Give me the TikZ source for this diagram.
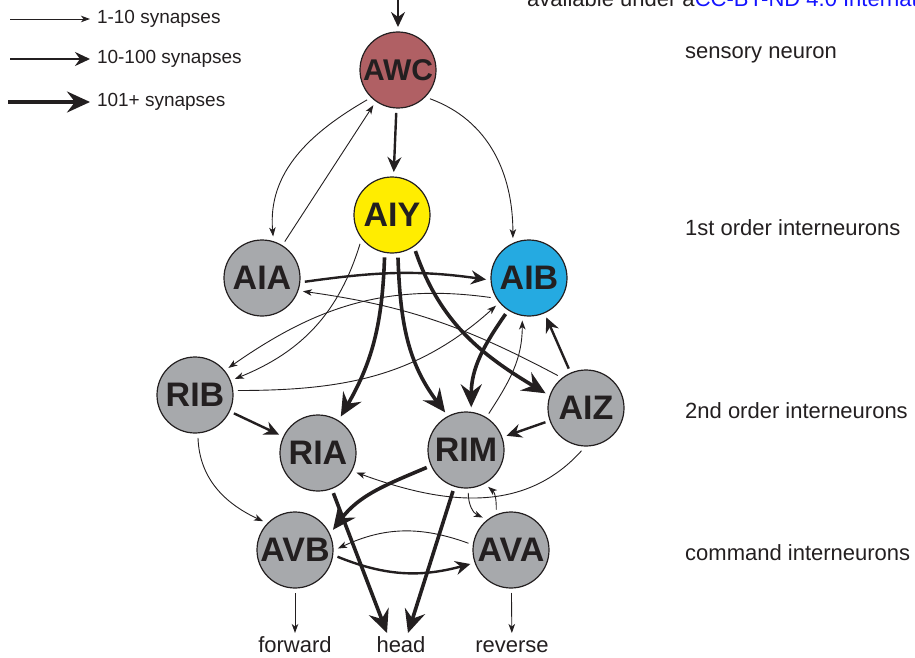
\documentclass[tikz,border=0pt]{standalone}
\usepackage{fontspec}
\setmainfont{Liberation Sans}
\usetikzlibrary{arrows.meta}
\definecolor{awcred}{RGB}{176,96,100}
\definecolor{aiyyellow}{RGB}{255,237,0}
\definecolor{aibblue}{RGB}{37,170,225}
\definecolor{cellgray}{RGB}{167,169,172}
\definecolor{ink}{RGB}{35,31,32}
\definecolor{linkblue}{RGB}{20,20,255}

\begin{document}
\begin{tikzpicture}[x=1pt,y=1pt,font=\fontsize{22}{26}\selectfont,text=ink,
 neuron/.style={circle,draw=ink,fill=cellgray,line width=1.2pt,minimum size=76pt,inner sep=0pt,outer sep=5pt,font=\bfseries\fontsize{34}{34}\selectfont},
 outcome/.style={inner sep=0pt,outer sep=3pt,text height=16pt,text depth=4pt,anchor=base},
 keytext/.style={anchor=west,inner sep=0pt,outer sep=7pt,font=\fontsize{19}{22}\selectfont},
 lowsyn/.style={draw=ink,line width=.9pt,-{Stealth[length=9pt,width=6.5pt,inset=2.5pt]}},
 midsyn/.style={draw=ink,line width=2.4pt,-{Stealth[length=15pt,width=14pt,inset=5pt]}},
 highsyn/.style={draw=ink,line width=3.6pt,-{Stealth[length=23pt,width=21pt,inset=8pt]}}]
 \useasboundingbox (0,0) rectangle (915,-658);
 \clip (0,0) rectangle (915,-658);
 \node[anchor=base west,inner sep=0pt] (licence) at (527,-7) {available under a\textcolor{linkblue}{CC-BY-ND 4.0 International license}};

 \node[keytext] (k1) at (90,-19) {1-10 synapses};
 \node[keytext] (k2) at (90,-59) {10-100 synapses};
 \node[keytext] (k3) at (90,-102) {101+ synapses};
 \coordinate (s1) at (10,-19);
 \coordinate (s2) at (10,-59);
 \coordinate (s3) at (8,-102);
 \draw[lowsyn] (s1) -- (k1);
 \draw[midsyn] (s2) -- (k2);
 \draw[highsyn] (s3) -- (k3);

 \node[anchor=west,inner sep=0pt] (sensory) at (685,-55) {sensory neuron};
 \node[anchor=west,inner sep=0pt] (first) at (685,-228) {1st order interneurons};
 \node[anchor=west,inner sep=0pt] (second) at (685,-411) {2nd order interneurons};
 \node[anchor=west,inner sep=0pt] (command) at (685,-553) {command interneurons};

 \node[neuron,fill=awcred,font=\bfseries\fontsize{30}{30}\selectfont] (awc) at (398,-70) {AWC};
 \node[neuron,fill=aiyyellow] (aiy) at (392,-215) {AIY};
 \node[neuron] (aia) at (262,-278) {AIA};
 \node[neuron,fill=aibblue] (aib) at (529,-278) {AIB};
 \node[neuron] (rib) at (195,-395) {RIB};
 \node[neuron] (ria) at (318,-453) {RIA};
 \node[neuron] (rim) at (466,-450) {RIM};
 \node[neuron] (aiz) at (586,-408) {AIZ};
 \node[neuron] (avb) at (295,-550) {AVB};
 \node[neuron] (ava) at (511,-550) {AVA};
 \node[outcome] (forward) at (295,-652) {forward};
 \node[outcome] (head) at (401,-652) {head};
 \node[outcome] (reverse) at (512,-652) {reverse};

 \coordinate (input) at (398,0);
 \draw[midsyn] (input) -- (awc);
 \draw[midsyn] (awc) -- (aiy);
 \draw[lowsyn] (awc.224) to[out=210,in=95] (aia.75);
 \draw[lowsyn] (aia.58) -- (awc.235);
 \draw[lowsyn] (awc.318) to[out=340,in=90] (aib.112);

 \draw[midsyn] (aia.355) to[out=8,in=172] (aib.182);
 \draw[lowsyn] (aiz.131) to[out=152,in=-8] (aia.342);
 \draw[lowsyn] (aib.207) to[out=172,in=35] (rib.39);
 \draw[lowsyn] (aiy.222) to[out=253,in=22] (rib.22);
 \draw[lowsyn] (rib.6) to[out=0,in=222] (aib.220);

 \draw[highsyn] (aiy.260) to[out=268,in=60] (ria.58);
 \draw[highsyn] (aiy.278) to[out=272,in=127] (rim.119);
 \draw[highsyn] (aiy.303) to[out=289,in=149] (aiz.160);
 \draw[highsyn] (aib.237) to[out=235,in=90] (rim.83);
 \draw[lowsyn] (rim.58) to[out=57,in=270] (aib.261);
 \draw[midsyn] (aiz) -- (aib);
 \draw[midsyn] (rib) -- (ria);
 \draw[midsyn] (aiz) -- (rim);

 \draw[lowsyn] (rib.274) to[out=272,in=155] (avb.138);
 \draw[lowsyn] (aiz.264) to[out=228,in=340] (ria.333);
 \draw[highsyn] (rim.204) to[out=203,in=53] (avb.28);
 \draw[highsyn] (ria) -- ([xshift=-14pt]head.north);
 \draw[highsyn] (rim) -- ([xshift=7pt]head.north);
 \draw[lowsyn] (rim.273) to[out=270,in=155] (ava.131);
 \draw[lowsyn] (ava.110) to[out=90,in=-40] (rim.301);
 \draw[lowsyn] (ava.171) to[out=160,in=25] (avb.2);
 \draw[midsyn] (avb.351) to[out=-22,in=195] (ava.199);
 \draw[lowsyn] (avb) -- (forward);
 \draw[lowsyn] (ava) -- (reverse);
\end{tikzpicture}
\end{document}
